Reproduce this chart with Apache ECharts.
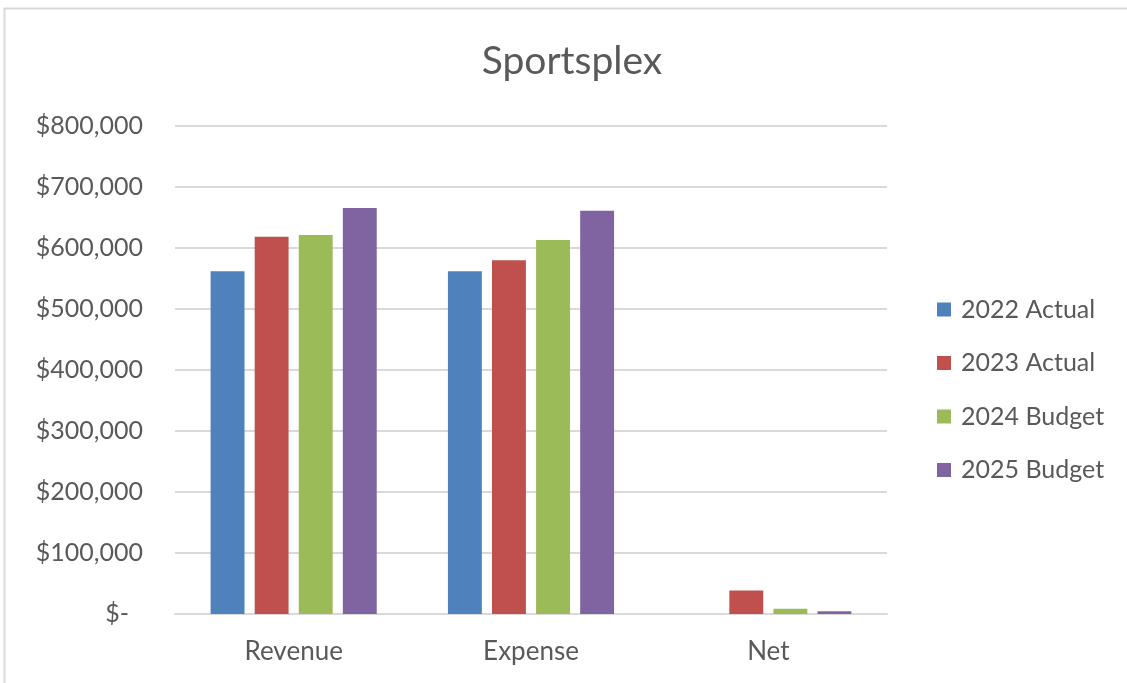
<!DOCTYPE html>
<html>
<head>
<meta charset="utf-8">
<script src="https://cdn.jsdelivr.net/npm/echarts@6/dist/echarts.min.js"></script>
<style>
  html, body { margin: 0; padding: 0; background: #fff; }
  #chart { width: 1127px; height: 683px; }
</style>
</head>
<body>
<div id="chart"></div>
<script>
// Sportsplex budget comparison
const categories = ['Revenue', 'Expense', 'Net'];
const seriesNames = ['2022 Actual', '2023 Actual', '2024 Budget', '2025 Budget'];
const actual2022 = [562000, 562000, 0];
const actual2023 = [618500, 580000, 38500];
const budget2024 = [621500, 613000, 8500];
const budget2025 = [665500, 661000, 4500];
const colors = ['#4F81BD', '#C0504D', '#9BBB59', '#8064A2'];

const FONT = 'Lato, "Open Sans", sans-serif';
const TEXT = '#595959';

const values = [actual2022, actual2023, budget2024, budget2025];

const chart = echarts.init(document.getElementById('chart'), null, { renderer: 'canvas' });

function money(v) {
  if (v === 0) return '{z|$-}';
  return '$' + v.toLocaleString('en-US');
}

chart.setOption({
  animation: false,
  backgroundColor: '#ffffff',
  color: colors,
  title: {
    text: 'Sportsplex',
    left: 567,
    textAlign: 'center',
    top: 37,
    textStyle: { fontFamily: FONT, fontSize: 39, fontWeight: 'normal', color: TEXT }
  },
  legend: {
    orient: 'vertical',
    left: 937,
    top: 297,
    padding: 0,
    itemWidth: 14,
    itemHeight: 14,
    itemGap: 28.5,
    icon: 'rect',
    data: seriesNames,
    textStyle: { fontFamily: FONT, fontSize: 25, color: TEXT, padding: [0, 0, 0, 5] }
  },
  grid: { left: 175, right: 240, top: 126, bottom: 69, containLabel: false },
  xAxis: {
    type: 'category',
    data: categories,
    axisLine: { lineStyle: { color: '#d9d9d9', width: 2 } },
    axisTick: { show: false },
    axisLabel: { fontFamily: FONT, fontSize: 26, color: TEXT, margin: 25 }
  },
  yAxis: {
    type: 'value',
    min: 0,
    max: 800000,
    interval: 100000,
    axisLine: { show: false },
    axisTick: { show: false },
    splitLine: { lineStyle: { color: '#d9d9d9', width: 2 } },
    axisLabel: {
      fontFamily: FONT, fontSize: 25, color: TEXT, margin: 32,
      formatter: money,
      rich: { z: { fontFamily: FONT, fontSize: 25, color: TEXT, padding: [0, 14, 0, 0] } }
    }
  },
  graphic: [{
    type: 'rect',
    shape: { x: 4.5, y: 8.5, width: 1200, height: 800 },
    style: { fill: 'none', stroke: '#d9d9d9', lineWidth: 2 },
    silent: true,
    z: -1
  }],
  series: seriesNames.map((name, i) => ({
    name: name,
    type: 'bar',
    data: values[i],
    barGap: '30%',
    barCategoryGap: '30%',
    itemStyle: { color: colors[i] }
  }))
});
</script>
</body>
</html>
